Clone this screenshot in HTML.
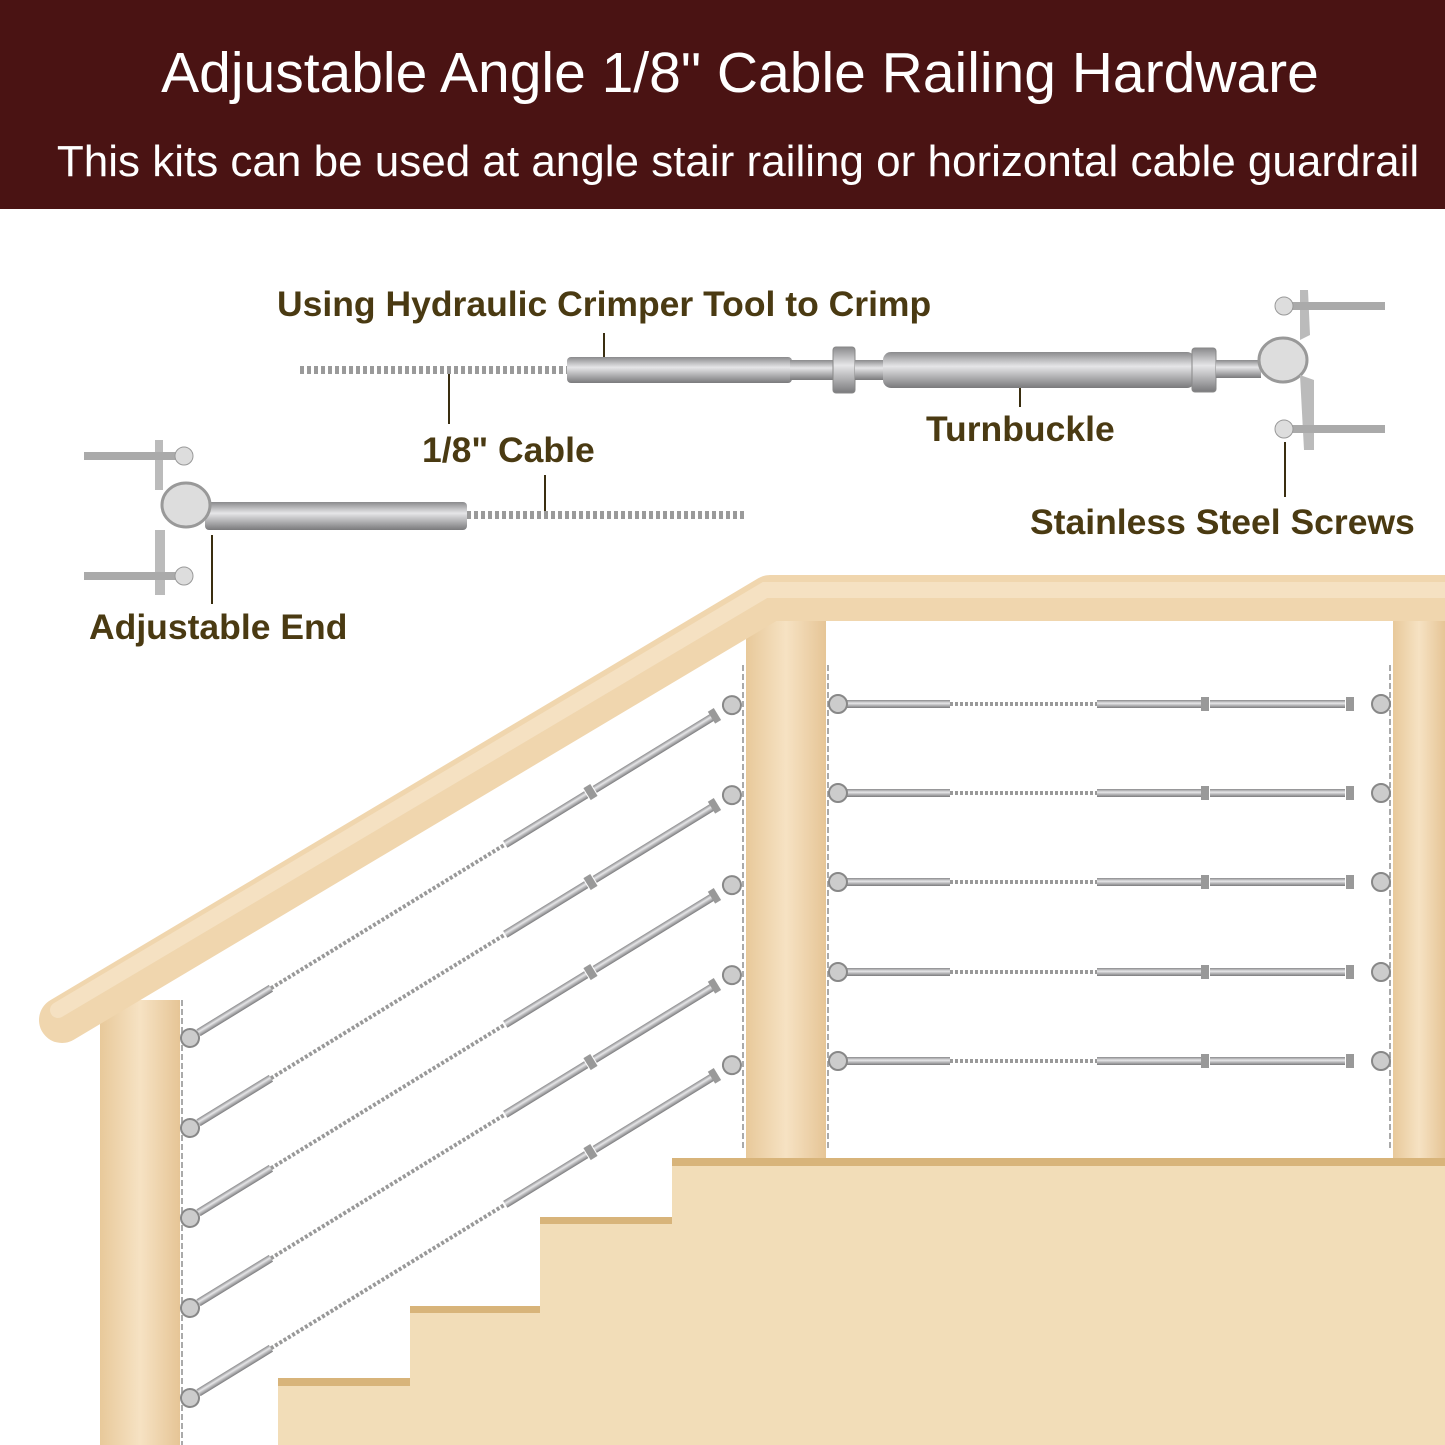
<!DOCTYPE html>
<html><head><meta charset="utf-8"><style>
html,body{margin:0;padding:0;background:#fff}
svg{display:block}
</style></head><body>
<svg width="1445" height="1445" viewBox="0 0 1445 1445" xmlns="http://www.w3.org/2000/svg">
<defs>
<linearGradient id="wood" x1="0" y1="0" x2="1" y2="0">
<stop offset="0" stop-color="#e8c99a"/><stop offset="0.5" stop-color="#f6e2c3"/><stop offset="1" stop-color="#e6c596"/>
</linearGradient>
<linearGradient id="metal" x1="0" y1="0" x2="0" y2="1">
<stop offset="0" stop-color="#8a8a8c"/><stop offset="0.4" stop-color="#e6e6e8"/><stop offset="1" stop-color="#7a7a7c"/>
</linearGradient>
<g id="hcable">
<rect x="845" y="-4" width="105" height="8" fill="url(#metal)"/>
<line x1="950" y1="0" x2="1097" y2="0" stroke="#999" stroke-width="4" stroke-dasharray="3 2"/>
<rect x="1097" y="-4" width="105" height="8" fill="url(#metal)"/>
<rect x="1201" y="-7" width="8" height="14" fill="#999"/>
<rect x="1210" y="-4" width="135" height="8" fill="url(#metal)"/>
<rect x="1346" y="-7" width="8" height="14" fill="#999"/>
<circle cx="838" cy="0" r="9" fill="#ccc" stroke="#888" stroke-width="2"/>
<circle cx="1381" cy="0" r="9" fill="#ccc" stroke="#888" stroke-width="2"/>
</g>
<g id="dcable">
<rect x="10" y="-4" width="85" height="8" fill="url(#metal)"/>
<line x1="95" y1="0" x2="370" y2="0" stroke="#999" stroke-width="4" stroke-dasharray="3 2"/>
<rect x="370" y="-4" width="95" height="8" fill="url(#metal)"/>
<rect x="466" y="-7" width="8" height="14" fill="#999"/>
<rect x="475" y="-4" width="140" height="8" fill="url(#metal)"/>
<rect x="612" y="-7" width="7" height="14" fill="#999"/>
<circle cx="0" cy="0" r="9" fill="#ccc" stroke="#888" stroke-width="2"/>
<circle cx="636" cy="0" r="9" fill="#ccc" stroke="#888" stroke-width="2"/>
</g>
</defs>
<rect x="0" y="0" width="1445" height="209" fill="#4a1313"/>
<text x="740" y="92" text-anchor="middle" font-family="Liberation Sans, sans-serif" font-size="57" fill="#fff">Adjustable Angle 1/8" Cable Railing Hardware</text>
<text x="738" y="176" text-anchor="middle" font-family="Liberation Sans, sans-serif" font-size="44" fill="#fff">This kits can be used at angle stair railing or horizontal cable guardrail</text>

<g font-family="Liberation Sans, sans-serif" font-weight="bold" font-size="35.5" fill="#4a3a12">
<text x="277" y="316">Using Hydraulic Crimper Tool to Crimp</text>
<text x="422" y="462">1/8" Cable</text>
<text x="926" y="441">Turnbuckle</text>
<text x="1030" y="534">Stainless Steel Screws</text>
<text x="89" y="639">Adjustable End</text>
</g>
<g stroke="#3a2e10" stroke-width="2">
<line x1="604" y1="333" x2="604" y2="368"/>
<line x1="449" y1="372" x2="449" y2="424"/>
<line x1="545" y1="475" x2="545" y2="515"/>
<line x1="1020" y1="382" x2="1020" y2="407"/>
<line x1="1285" y1="442" x2="1285" y2="497"/>
<line x1="212" y1="535" x2="212" y2="604"/>
</g>
<line x1="300" y1="370" x2="567" y2="370" stroke="#9a9a9a" stroke-width="8" stroke-dasharray="4 3"/>
<rect x="567" y="357" width="225" height="26" rx="4" fill="url(#metal)"/>
<rect x="790" y="360" width="45" height="20" fill="url(#metal)"/>
<rect x="833" y="347" width="22" height="46" rx="3" fill="url(#metal)" stroke="#888"/>
<rect x="855" y="360" width="30" height="20" fill="url(#metal)"/>
<rect x="883" y="352" width="312" height="36" rx="8" fill="url(#metal)"/>
<rect x="1192" y="348" width="24" height="44" rx="3" fill="url(#metal)" stroke="#888"/>
<rect x="1216" y="360" width="45" height="18" fill="url(#metal)"/>
<ellipse cx="1283" cy="360" rx="24" ry="22" fill="#ddd" stroke="#999" stroke-width="3"/>
<path d="M1300 290 L1308 290 L1310 335 L1300 340Z M1300 375 L1314 380 L1314 450 L1304 450Z" fill="#bbb"/>
<g fill="#aaa"><rect x="1290" y="302" width="95" height="8"/><rect x="1290" y="425" width="95" height="8"/></g>
<circle cx="1284" cy="306" r="9" fill="#ddd" stroke="#999"/><circle cx="1284" cy="429" r="9" fill="#ddd" stroke="#999"/>
<line x1="467" y1="515" x2="745" y2="515" stroke="#9a9a9a" stroke-width="8" stroke-dasharray="4 3"/>
<rect x="205" y="502" width="262" height="28" rx="4" fill="url(#metal)"/>
<path d="M155 440 L163 440 L163 490 L155 490Z M155 530 L165 530 L165 595 L155 595Z" fill="#bbb"/>
<g fill="#aaa"><rect x="84" y="452" width="95" height="8"/><rect x="84" y="572" width="95" height="8"/></g>
<circle cx="184" cy="456" r="9" fill="#ddd" stroke="#999"/><circle cx="184" cy="576" r="9" fill="#ddd" stroke="#999"/>
<ellipse cx="186" cy="505" rx="24" ry="22" fill="#ddd" stroke="#999" stroke-width="3"/>

<rect x="278" y="1378" width="1167" height="67" fill="#f2ddb8"/>
<rect x="410" y="1306" width="1035" height="139" fill="#f2ddb8"/>
<rect x="540" y="1217" width="905" height="228" fill="#f2ddb8"/>
<rect x="672" y="1158" width="773" height="287" fill="#f2ddb8"/>
<g fill="#d8b47a"><rect x="278" y="1378" width="132" height="8"/><rect x="410" y="1306" width="130" height="7"/><rect x="540" y="1217" width="132" height="7"/><rect x="672" y="1158" width="773" height="8"/></g>

<rect x="100" y="1000" width="80" height="445" fill="url(#wood)"/>
<rect x="746" y="600" width="80" height="558" fill="url(#wood)"/>
<rect x="1393" y="600" width="52" height="558" fill="url(#wood)"/>
<g stroke="#aaa" stroke-width="2" stroke-dasharray="6 3">
<line x1="182" y1="1000" x2="182" y2="1445"/><line x1="743" y1="665" x2="743" y2="1150"/>
<line x1="828" y1="665" x2="828" y2="1150"/><line x1="1390" y1="665" x2="1390" y2="1150"/></g>

<path d="M62 1020 L770 598 L1445 598" fill="none" stroke="#f0d6ae" stroke-width="46" stroke-linecap="round" stroke-linejoin="round"/>
<path d="M58 1010 L765 590 L1445 590" fill="none" stroke="#f7e6cb" stroke-width="16" stroke-linecap="round" opacity="0.7"/>

<use href="#hcable" transform="translate(0,704)"/>
<use href="#hcable" transform="translate(0,793)"/>
<use href="#hcable" transform="translate(0,882)"/>
<use href="#hcable" transform="translate(0,972)"/>
<use href="#hcable" transform="translate(0,1061)"/>
<use href="#dcable" transform="translate(190,1038) rotate(-31.56)"/>
<use href="#dcable" transform="translate(190,1128) rotate(-31.56)"/>
<use href="#dcable" transform="translate(190,1218) rotate(-31.56)"/>
<use href="#dcable" transform="translate(190,1308) rotate(-31.56)"/>
<use href="#dcable" transform="translate(190,1398) rotate(-31.56)"/>
</svg>
</body></html>
